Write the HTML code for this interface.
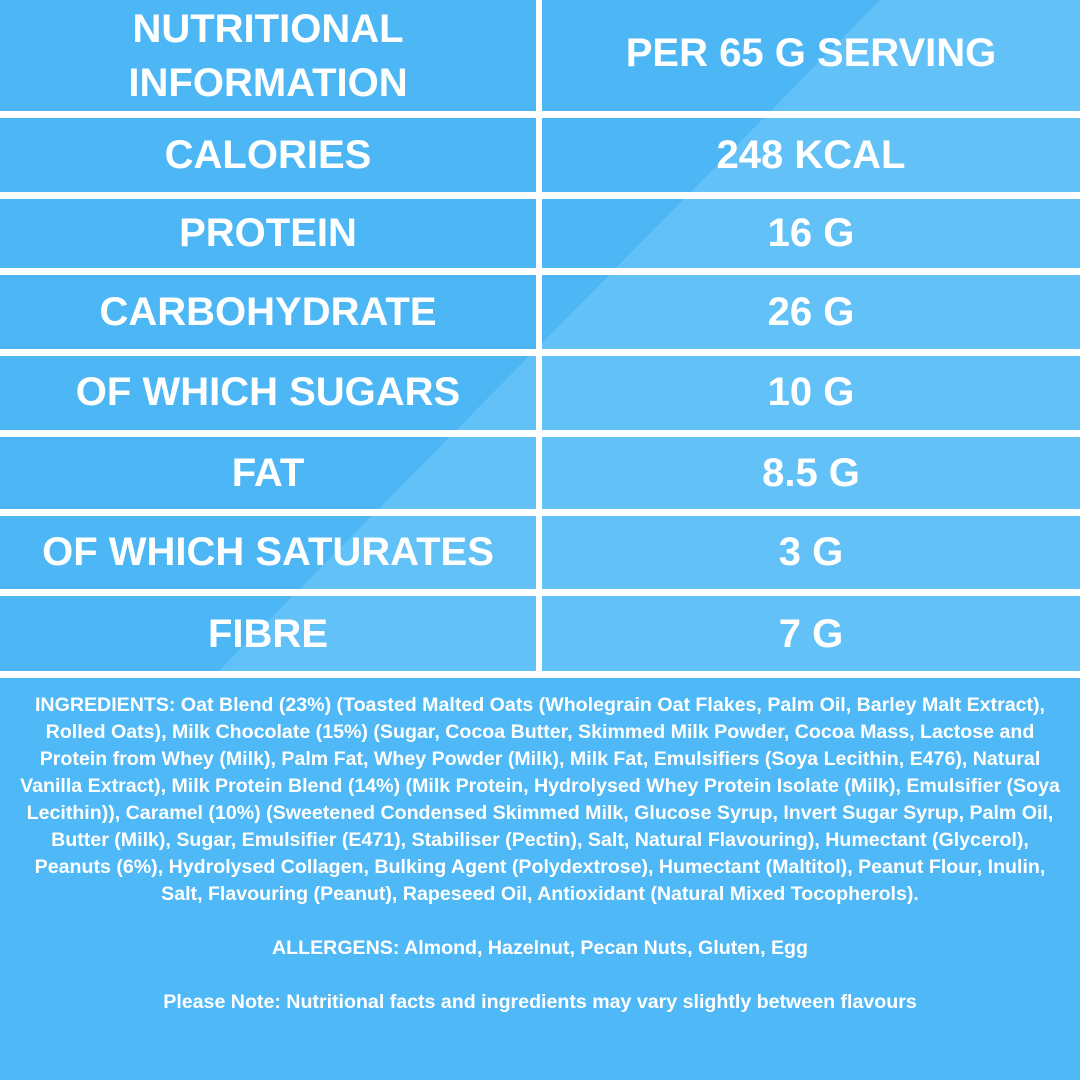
<!DOCTYPE html>
<html><head><meta charset="utf-8"><style>
html,body{margin:0;padding:0}
body{width:1080px;height:1080px;background:#4fb8f6;position:relative;overflow:hidden;font-family:"Liberation Sans",Arial,sans-serif;font-weight:bold;color:#fff}
.tbl{position:absolute;left:0;top:0;width:1080px;height:678px;background:#4db7f5}
.tbl svg{position:absolute;left:0;top:0}
.h{position:absolute;left:0;width:1080px;height:7px;background:#fff}
.v{position:absolute;left:536px;top:0;width:6px;height:678px;background:#fff}
.c{position:absolute;text-align:center;font-size:40px;line-height:44px}
.l{left:0;width:536px}.r{left:542px;width:538px}
.ing{position:absolute;left:0;top:692px;width:1080px;text-align:center;font-size:19.6px;line-height:27px}
</style></head><body>
<div class="tbl">
<svg width="1080" height="678"><polygon points="880,0 1080,0 1080,678 212,678" fill="#62c1f6"/></svg>
<div class="h" style="top:111px"></div>
<div class="h" style="top:192px"></div>
<div class="h" style="top:268px"></div>
<div class="h" style="top:349px"></div>
<div class="h" style="top:430px"></div>
<div class="h" style="top:509px"></div>
<div class="h" style="top:589px"></div>
<div class="h" style="top:671px"></div>
<div class="v"></div>
<div class="c l" style="top:2px;line-height:54px">NUTRITIONAL<br>INFORMATION</div>
<div class="c r" style="top:31px">PER 65 G SERVING</div>
<div class="c l" style="top:133px">CALORIES</div><div class="c r" style="top:133px">248 KCAL</div>
<div class="c l" style="top:211px">PROTEIN</div><div class="c r" style="top:211px">16 G</div>
<div class="c l" style="top:290px">CARBOHYDRATE</div><div class="c r" style="top:290px">26 G</div>
<div class="c l" style="top:370px">OF WHICH SUGARS</div><div class="c r" style="top:370px">10 G</div>
<div class="c l" style="top:451px">FAT</div><div class="c r" style="top:451px">8.5 G</div>
<div class="c l" style="top:530px">OF WHICH SATURATES</div><div class="c r" style="top:530px">3 G</div>
<div class="c l" style="top:612px">FIBRE</div><div class="c r" style="top:612px">7 G</div>
</div>
<div class="ing">INGREDIENTS: Oat Blend (23%) (Toasted Malted Oats (Wholegrain Oat Flakes, Palm Oil, Barley Malt Extract),<br>Rolled Oats), Milk Chocolate (15%) (Sugar, Cocoa Butter, Skimmed Milk Powder, Cocoa Mass, Lactose and<br>Protein from Whey (Milk), Palm Fat, Whey Powder (Milk), Milk Fat, Emulsifiers (Soya Lecithin, E476), Natural<br>Vanilla Extract), Milk Protein Blend (14%) (Milk Protein, Hydrolysed Whey Protein Isolate (Milk), Emulsifier (Soya<br>Lecithin)), Caramel (10%) (Sweetened Condensed Skimmed Milk, Glucose Syrup, Invert Sugar Syrup, Palm Oil,<br>Butter (Milk), Sugar, Emulsifier (E471), Stabiliser (Pectin), Salt, Natural Flavouring), Humectant (Glycerol),<br>Peanuts (6%), Hydrolysed Collagen, Bulking Agent (Polydextrose), Humectant (Maltitol), Peanut Flour, Inulin,<br>Salt, Flavouring (Peanut), Rapeseed Oil, Antioxidant (Natural Mixed Tocopherols).<br><br>ALLERGENS: Almond, Hazelnut, Pecan Nuts, Gluten, Egg<br><br>Please Note: Nutritional facts and ingredients may vary slightly between flavours</div>
</body></html>
